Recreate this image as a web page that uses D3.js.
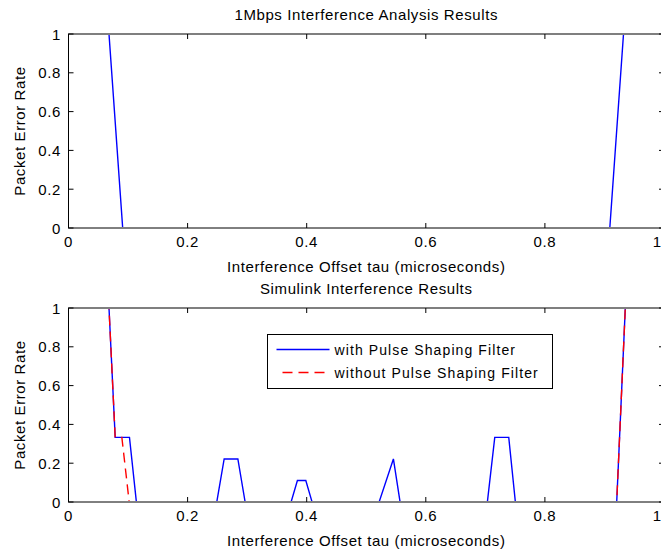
<!DOCTYPE html>
<html>
<head>
<meta charset="utf-8">
<script src="https://cdn.jsdelivr.net/npm/d3@7"></script>
<style>
  html, body { margin: 0; padding: 0; background: #fff; }
  svg { display: block; }
  text { font-family: "Liberation Sans", Arial, Helvetica, sans-serif; fill: #000; }
</style>
</head>
<body>
<svg id="chart" width="661" height="554"></svg>
<script>
// ---- Data ----
const xTicks = [0, 0.2, 0.4, 0.6, 0.8, 1];
const yTicks = [0, 0.2, 0.4, 0.6, 0.8, 1];
const xTickLabels = ["0", "0.2", "0.4", "0.6", "0.8", "1"];
const yTickLabels = ["0", "0.2", "0.4", "0.6", "0.8", "1"];

const topTitle = "1Mbps Interference Analysis Results";
const bottomTitle = "Simulink Interference Results";
const xLabelText = "Interference Offset tau (microseconds)";
const yLabelText = "Packet Error Rate";
const seriesNames = ["with Pulse Shaping Filter", "without Pulse Shaping Filter"];

// top: analysis result (tau, PER)
const analysisTau = [0, 0.068, 0.091, 0.909, 0.932, 1];
const analysisPER = [1, 1, 0, 0, 1, 1];

// bottom: with pulse shaping filter
const withTau = [0, 0.068, 0.0784, 0.1024, 0.114, 0.249, 0.2614, 0.2844, 0.2966, 0.3738, 0.3844, 0.3985, 0.409, 0.5216, 0.5456, 0.5568, 0.7034, 0.7158, 0.7393, 0.7504, 0.9206, 0.935, 1];
const withPER = [1, 1, 0.333, 0.333, 0, 0, 0.222, 0.222, 0, 0, 0.111, 0.111, 0, 0, 0.222, 0, 0, 0.333, 0.333, 0, 0, 1, 1];

// bottom: without pulse shaping filter
const withoutTau = [0, 0.068, 0.0784, 0.0896, 0.1019, 0.9206, 0.935, 1];
const withoutPER = [1, 1, 0.333, 0.333, 0, 0, 1, 1];

// ---- Layout ----
const svg = d3.select("#chart");
const left = 68.5, right = 664;
const panels = [
  { top: 34, bottom: 228, title: topTitle,
    series: [{ tau: analysisTau, per: analysisPER, color: "#0000ff", dash: null }] },
  { top: 308, bottom: 502, title: bottomTitle,
    series: [{ tau: withTau, per: withPER, color: "#0000ff", dash: null },
             { tau: withoutTau, per: withoutPER, color: "#ff0000", dash: "10,6" }],
    legend: true }
];

const FS = 15, LS = 0.6;

panels.forEach((p, pi) => {
  const x = d3.scaleLinear().domain([0, 1]).range([left, right]);
  const y = d3.scaleLinear().domain([0, 1]).range([p.bottom, p.top]);
  const g = svg.append("g");

  const clipId = "clip" + pi;
  svg.append("clipPath").attr("id", clipId)
    .append("rect")
    .attr("x", left).attr("y", p.top + 1)
    .attr("width", right - left).attr("height", p.bottom - p.top - 2);

  // data lines
  const dg = g.append("g").attr("clip-path", `url(#${clipId})`);
  p.series.forEach(s => {
    const pts = s.tau.map((t, i) => [t, s.per[i]]);
    const line = d3.line().x(d => x(d[0])).y(d => y(d[1]));
    dg.append("path").datum(pts)
      .attr("d", line)
      .attr("fill", "none")
      .attr("stroke", s.color)
      .attr("stroke-width", 1.4)
      .attr("stroke-dasharray", s.dash);
  });

  // axes box
  g.append("rect")
    .attr("x", left).attr("y", p.top)
    .attr("width", right - left).attr("height", p.bottom - p.top)
    .attr("fill", "none").attr("stroke", "#000").attr("stroke-width", 1);

  const tl = 5;
  // x ticks (bottom & top, inward)
  xTicks.forEach((t, i) => {
    g.append("line").attr("x1", x(t)).attr("x2", x(t))
      .attr("y1", p.bottom).attr("y2", p.bottom - tl).attr("stroke", "#000");
    g.append("line").attr("x1", x(t)).attr("x2", x(t))
      .attr("y1", p.top).attr("y2", p.top + tl).attr("stroke", "#000");
    const last = i === xTicks.length - 1;
    g.append("text").attr("x", last ? 661 : x(t)).attr("y", p.bottom + 18.5)
      .attr("text-anchor", last ? "end" : "middle").attr("font-size", FS)
      .attr("letter-spacing", last ? 0 : LS)
      .text(xTickLabels[i]);
  });
  // y ticks (left & right, inward)
  yTicks.forEach((t, i) => {
    g.append("line").attr("x1", left).attr("x2", left + tl)
      .attr("y1", y(t)).attr("y2", y(t)).attr("stroke", "#000");
    g.append("line").attr("x1", right).attr("x2", right - tl)
      .attr("y1", y(t)).attr("y2", y(t)).attr("stroke", "#000");
    g.append("text").attr("x", 61).attr("y", y(t) + 5.5)
      .attr("text-anchor", "end").attr("font-size", FS)
      .attr("letter-spacing", LS)
      .text(yTickLabels[i]);
  });

  // title
  g.append("text").attr("x", (left + right) / 2).attr("y", p.top - 14)
    .attr("text-anchor", "middle").attr("font-size", FS).attr("letter-spacing", LS)
    .text(p.title);
  // x label
  g.append("text").attr("x", (left + right) / 2).attr("y", p.bottom + 44)
    .attr("text-anchor", "middle").attr("font-size", FS).attr("letter-spacing", LS)
    .text(xLabelText);
  // y label
  const cy = (p.top + p.bottom) / 2;
  g.append("text").attr("transform", `translate(25,${cy}) rotate(-90)`)
    .attr("text-anchor", "middle").attr("font-size", FS).attr("letter-spacing", LS)
    .text(yLabelText);

  if (p.legend) {
    const lx = 267.5, ly = 334.5, lw = 285, lh = 54;
    const lg = g.append("g");
    lg.append("rect").attr("x", lx).attr("y", ly).attr("width", lw).attr("height", lh)
      .attr("fill", "#fff").attr("stroke", "#000").attr("stroke-width", 1);
    p.series.forEach((s, i) => {
      const yy = ly + 15 + i * 23;
      lg.append("line").attr("x1", lx + (s.dash ? 15 : 9)).attr("x2", lx + 62)
        .attr("y1", yy).attr("y2", yy)
        .attr("stroke", s.color).attr("stroke-width", 1.4)
        .attr("stroke-dasharray", s.dash);
      lg.append("text").attr("x", lx + 67).attr("y", yy + 5)
        .attr("font-size", 14).attr("letter-spacing", 1.1)
        .text(seriesNames[i]);
    });
  }
});
</script>
</body>
</html>
